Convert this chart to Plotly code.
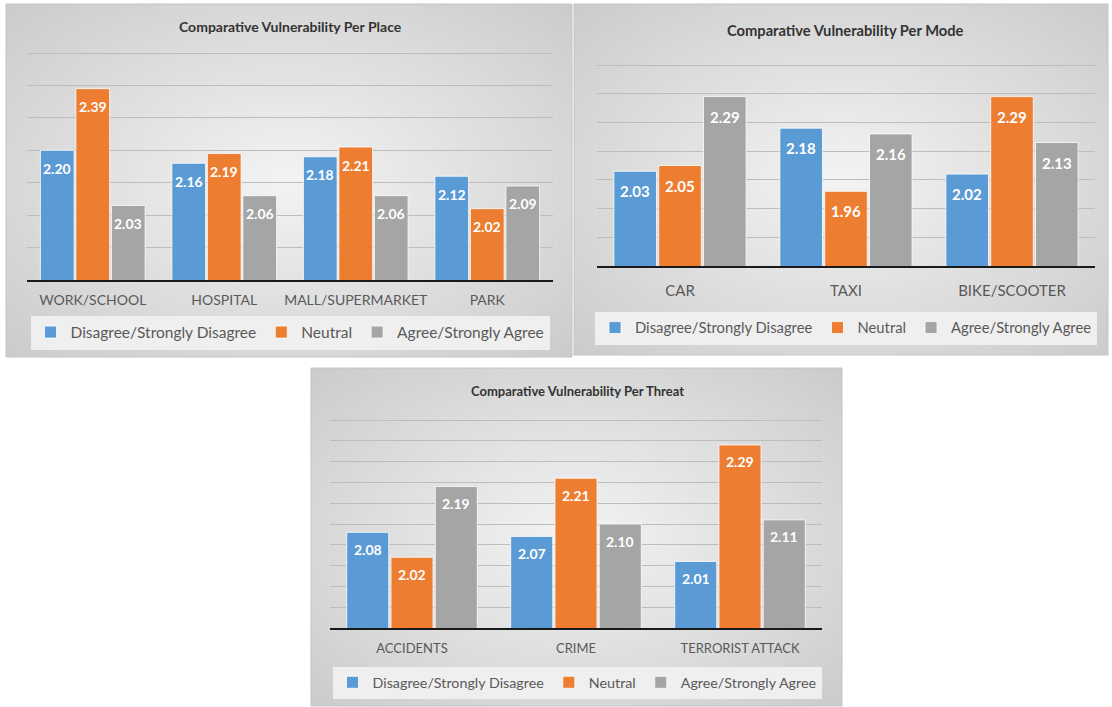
import base64
import struct
import zlib

import numpy as np
import plotly.graph_objects as go

W, H = 1112, 707

# ---------------- data ----------------
series_names = ["Disagree/Strongly Disagree", "Neutral", "Agree/Strongly Agree"]

places = ["WORK/SCHOOL", "HOSPITAL", "MALL/SUPERMARKET", "PARK"]
place_disagree = [2.20, 2.16, 2.18, 2.12]
place_neutral = [2.39, 2.19, 2.21, 2.02]
place_agree = [2.03, 2.06, 2.06, 2.09]

modes = ["CAR", "TAXI", "BIKE/SCOOTER"]
mode_disagree = [2.03, 2.18, 2.02]
mode_neutral = [2.05, 1.96, 2.29]
mode_agree = [2.29, 2.16, 2.13]

threats = ["ACCIDENTS", "CRIME", "TERRORIST ATTACK"]
threat_disagree = [2.08, 2.07, 2.01]
threat_neutral = [2.02, 2.21, 2.29]
threat_agree = [2.19, 2.10, 2.11]

titles = ["Comparative Vulnerability Per Place",
          "Comparative Vulnerability Per Mode",
          "Comparative Vulnerability Per Threat"]

colors = ["#5B9BD5", "#ED7D31", "#A5A5A5"]
FONT = "Lato, 'Open Sans', sans-serif"


# ------------- background gradient image -------------
def gradient_png(w, h, center=244, edge=204):
    yy, xx = np.mgrid[0:h, 0:w].astype(float)
    dx = (xx - (w - 1) / 2) / ((w - 1) / 2)
    dy = (yy - (h - 1) / 2) / ((h - 1) / 2)
    r = np.clip(np.sqrt(dx ** 2 + dy ** 2) / np.sqrt(2), 0, 1)
    v = (center + (edge - center) * r).astype(np.uint8)
    rgb = np.stack([v, v, v], axis=-1)
    raw = b"".join(b"\x00" + rgb[i].tobytes() for i in range(h))

    def chunk(tag, data):
        c = struct.pack(">I", len(data)) + tag + data
        return c + struct.pack(">I", zlib.crc32(tag + data) & 0xFFFFFFFF)

    png = b"\x89PNG\r\n\x1a\n"
    png += chunk(b"IHDR", struct.pack(">IIBBBBB", w, h, 8, 2, 0, 0, 0))
    png += chunk(b"IDAT", zlib.compress(raw, 9))
    png += chunk(b"IEND", b"")
    return "data:image/png;base64," + base64.b64encode(png).decode()


GRAD = gradient_png(240, 160)


def px_x(p):
    return p / W


def px_y(p):
    return 1 - p / H


# panel boxes (left, top, right, bottom) in px
panels = [(6, 4, 572, 357), (574, 4, 1108, 355), (311, 368, 842, 706)]
# plot areas (left, top, right, bottom) in px  (top = top gridline)
plots = [(27, 53, 553, 280), (597, 65, 1095, 266), (330, 420, 822, 628)]
ranges = [(1.8, 2.5, 0.1), (1.7, 2.4, 0.1), (1.85, 2.35, 0.05)]
title_pos = [(290, 26), (845, 30), (577, 391)]
title_size = [14, 14.7, 13]
legend_pos = [(290, 332.5), (846, 328), (577, 682.5)]
legend_size = [15.5, 14.8, 14.3]
tick_size = [14, 15, 13]
label_size = [14, 15, 14]
label_drop = [18, 20, 17]
tick_standoff = [6, 10, 7]

datasets = [
    (places, [place_disagree, place_neutral, place_agree]),
    (modes, [mode_disagree, mode_neutral, mode_agree]),
    (threats, [threat_disagree, threat_neutral, threat_agree]),
]

BARGAP = 0.19
EXTRA_PX = 3  # extend plot top a few px so top gridline is drawn
fig = go.Figure()
annotations = []
images = []
shapes = []
layout_axes = {}

for k, ((cats, vals), plot, rng) in enumerate(zip(datasets, plots, ranges)):
    sfx = "" if k == 0 else str(k + 1)
    xa, ya = "x" + sfx, "y" + sfx
    leg = "legend" + sfx
    for i in range(3):
        fig.add_trace(go.Bar(
            x=cats, y=vals[i], name=series_names[i],
            marker=dict(color=colors[i], line=dict(color="white", width=0.8)),
            xaxis=xa, yaxis=ya, legend=leg, showlegend=True,
            hoverinfo="x+y+name",
        ))
    l, t, r, b = plot
    lo, hi, step = rng
    per_px = (hi - lo) / (b - t)
    hi_ext = hi + EXTRA_PX * per_px
    layout_axes["xaxis" + sfx] = dict(
        domain=[px_x(l), px_x(r)], anchor=ya,
        showline=True, linecolor="#1a1a1a", linewidth=2,
        ticks="", showgrid=False, ticklabelstandoff=tick_standoff[k],
        tickfont=dict(family=FONT, size=tick_size[k], color="#595959"),
        fixedrange=True,
    )
    layout_axes["yaxis" + sfx] = dict(
        domain=[px_y(b), px_y(t - EXTRA_PX)], anchor=xa,
        range=[lo, hi_ext], dtick=step, tick0=lo,
        showgrid=True, gridcolor="#bdbdbd", gridwidth=1,
        showticklabels=False, zeroline=False, showline=False, ticks="",
        fixedrange=True,
    )
    # data labels
    cat_px = (r - l) / len(cats)
    slot = cat_px * (1 - BARGAP) / 3
    for i in range(3):
        for c, v in zip(cats, vals[i]):
            annotations.append(dict(
                x=c, y=v, xref=xa, yref=ya, text=f"{v:.2f}",
                showarrow=False, xshift=(i - 1) * slot, yshift=-label_drop[k],
                yanchor="middle", xanchor="center",
                font=dict(family=FONT, size=label_size[k], color="white", weight="bold"),
            ))
    # title
    tx, ty = title_pos[k]
    annotations.append(dict(
        x=px_x(tx), y=px_y(ty), xref="paper", yref="paper", text=f"<b>{titles[k]}</b>",
        showarrow=False, xanchor="center", yanchor="middle",
        font=dict(family=FONT, size=title_size[k], color="#333333"),
    ))
    # panel background
    pl, pt, pr, pb = panels[k]
    images.append(dict(
        source=GRAD, xref="paper", yref="paper", x=px_x(pl), y=px_y(pt),
        sizex=(pr - pl) / W, sizey=(pb - pt) / H, sizing="stretch",
        xanchor="left", yanchor="top", layer="below", opacity=1,
    ))
    shapes.append(dict(
        type="rect", xref="paper", yref="paper", x0=px_x(pl), x1=px_x(pr),
        y0=px_y(pb), y1=px_y(pt), line=dict(color="#c4c4c4", width=1),
        fillcolor="rgba(0,0,0,0)", layer="below",
    ))
    # legend
    lx, ly = legend_pos[k]
    layout_axes[leg] = dict(
        x=px_x(lx), y=px_y(ly), xanchor="center", yanchor="middle",
        orientation="h", bgcolor="#efefef", borderwidth=0,
        font=dict(family=FONT, size=legend_size[k], color="#595959"),
        itemwidth=30, itemclick=False, itemdoubleclick=False,
        tracegroupgap=0,
    )

fig.update_layout(
    width=W, height=H, autosize=False,
    margin=dict(l=0, r=0, t=0, b=0),
    paper_bgcolor="white", plot_bgcolor="rgba(0,0,0,0)",
    barmode="group", bargap=BARGAP, bargroupgap=0.05,
    annotations=annotations, images=images, shapes=shapes,
    font=dict(family=FONT),
    **layout_axes,
)

fig.write_html("out.html", config={"displayModeBar": False})
